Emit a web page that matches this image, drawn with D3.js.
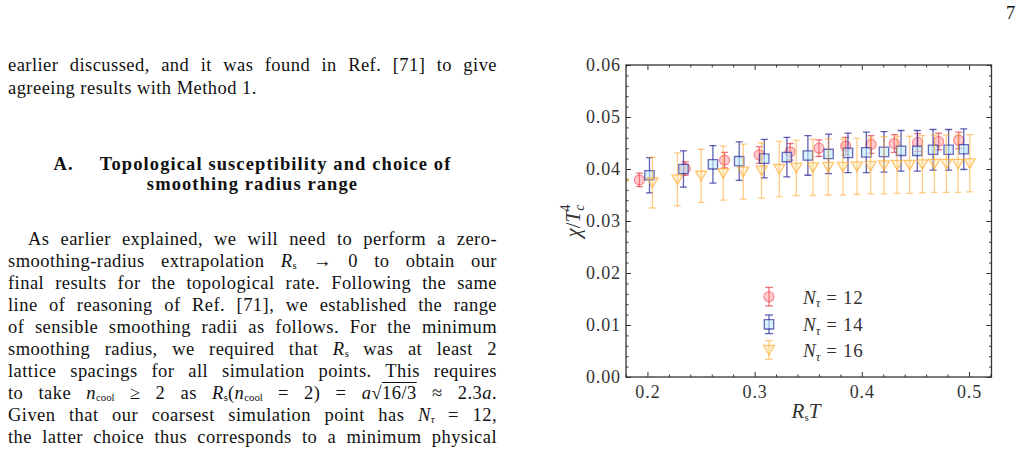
<!DOCTYPE html>
<html>
<head>
<meta charset="utf-8">
<script src="https://cdn.jsdelivr.net/npm/d3@7"></script>
<style>
  body { margin: 0; background: #fff; }
  #page { position: relative; width: 1029px; height: 451px; overflow: hidden;
          font-family: "Liberation Serif", serif; color: #111; background: #fff; }
  #chart { position: absolute; left: 0; top: 0; }
  .ln { position: absolute; left: 8px; width: 489px; font-size: 18.5px; line-height: 22px;
        height: 22px; letter-spacing: 0.45px; text-align: justify; text-align-last: justify; }
  .ln.left { text-align: left; text-align-last: left; }
  .ln.center { text-align: center; text-align-last: center; font-weight: bold; letter-spacing: 1.1px; }
  .ln sub { font-size: 0.58em; line-height: 0; vertical-align: -0.22em; font-style: normal; letter-spacing: 0; }
  .ln sub.it { font-style: italic; }
  .ov { text-decoration: overline; }
  #pnum { position: absolute; left: 1006px; top: 3px; font-size: 18.5px; }
</style>
</head>
<body>
<div id="page">
  <svg id="chart" width="1029" height="451"></svg>
  <div id="pnum">7</div>
  <div id="text"></div>
</div>
<script>
// ---- data ----
const rt12  = [0.1925, 0.2352, 0.2719, 0.3043, 0.3332, 0.3600, 0.3849, 0.4086, 0.4303, 0.4521, 0.4717, 0.4904];
const chi12 = [0.0379, 0.0401, 0.0417, 0.0427, 0.0433, 0.0440, 0.0444, 0.0447, 0.0449, 0.0451, 0.0453, 0.0455];
const err12 = [0.0013, 0.0013, 0.0015, 0.0016, 0.0016, 0.0016, 0.0017, 0.0017, 0.0017, 0.0017, 0.0016, 0.0016];

const rt14  = [0.2019, 0.2336, 0.2611, 0.2856, 0.3090, 0.3301, 0.3497, 0.3690, 0.3871, 0.4042, 0.4207, 0.4366, 0.4518, 0.4665, 0.4810, 0.4951];
const chi14 = [0.0388, 0.0400, 0.0409, 0.0415, 0.0420, 0.0423, 0.0426, 0.0429, 0.0431, 0.0432, 0.0433, 0.0435, 0.0435, 0.0437, 0.0437, 0.0438];
const err14 = [0.0034, 0.0035, 0.0036, 0.0037, 0.0037, 0.0038, 0.0038, 0.0038, 0.0038, 0.0039, 0.0039, 0.0039, 0.0039, 0.0039, 0.0039, 0.0039];

const rt16  = [0.1770, 0.2047, 0.2280, 0.2501, 0.2707, 0.2894, 0.3065, 0.3230, 0.3389, 0.3544, 0.3687, 0.3824, 0.3955, 0.4082, 0.4207, 0.4329, 0.4447, 0.4565, 0.4677, 0.4789, 0.4898, 0.5007];
const chi16 = [0.0372, 0.0374, 0.0380, 0.0387, 0.0392, 0.0395, 0.0397, 0.0400, 0.0402, 0.0403, 0.0404, 0.0404, 0.0405, 0.0406, 0.0407, 0.0408, 0.0408, 0.0409, 0.0410, 0.0410, 0.0410, 0.0411];
const err16 = [0.0048, 0.0049, 0.0051, 0.0051, 0.0052, 0.0053, 0.0053, 0.0053, 0.0053, 0.0054, 0.0054, 0.0054, 0.0054, 0.0054, 0.0055, 0.0055, 0.0055, 0.0055, 0.0055, 0.0055, 0.0055, 0.0055];

const legendLabels = ["12", "14", "16"];

const xMajor = [0.2, 0.3, 0.4, 0.5];
const xMinor = [0.18, 0.22, 0.24, 0.26, 0.28, 0.32, 0.34, 0.36, 0.38, 0.42, 0.44, 0.46, 0.48, 0.52];
const yMajor = [0.00, 0.01, 0.02, 0.03, 0.04, 0.05, 0.06];
const yMinor = [0.002, 0.004, 0.006, 0.008, 0.012, 0.014, 0.016, 0.018, 0.022, 0.024, 0.026, 0.028,
                0.032, 0.034, 0.036, 0.038, 0.042, 0.044, 0.046, 0.048, 0.052, 0.054, 0.056, 0.058];

// ---- page text (left column) ----
const textLines = [
  { b: 71.7,  cls: "",       html: "earlier discussed, and it was found in Ref. [71] to give" },
  { b: 94.3,  cls: "left",   html: "agreeing results with Method 1." },
  { b: 170.7, cls: "center", html: "<span style='margin-right:26px'>A.</span>Topological susceptibility and choice of" },
  { b: 190.7, cls: "center", html: "smoothing radius range" },
  { b: 245,   cls: "", indent: 20, html: "As earlier explained, we will need to perform a zero-" },
  { b: 267,   cls: "",       html: "smoothing-radius extrapolation <i>R</i><sub>s</sub> → 0 to obtain our" },
  { b: 289,   cls: "",       html: "final results for the topological rate. Following the same" },
  { b: 311,   cls: "",       html: "line of reasoning of Ref. [71], we established the range" },
  { b: 333,   cls: "",       html: "of sensible smoothing radii as follows. For the minimum" },
  { b: 355,   cls: "",       html: "smoothing radius, we required that <i>R</i><sub>s</sub> was at least 2" },
  { b: 377,   cls: "",       html: "lattice spacings for all simulation points. This requires" },
  { b: 399,   cls: "",       html: "to take <i>n</i><sub>cool</sub> ≥ 2 as <i>R</i><sub>s</sub>(<i>n</i><sub>cool</sub> = 2) = <i>a</i>√<span class='ov'>16/3</span> ≈ 2.3<i>a</i>." },
  { b: 421,   cls: "",       html: "Given that our coarsest simulation point has <i>N</i><sub class='it'>τ</sub> = 12," },
  { b: 443,   cls: "",       html: "the latter choice thus corresponds to a minimum physical" }
];

d3.select("#text").selectAll("div")
  .data(textLines)
  .enter()
  .append("div")
  .attr("class", d => "ln " + d.cls)
  .style("top", d => (d.b - 17.3) + "px")
  .style("left", d => (8 + (d.indent || 0)) + "px")
  .style("width", d => (489 - (d.indent || 0)) + "px")
  .html(d => d.html);

// ---- chart ----
const svg = d3.select("#chart");
const plot = { left: 626, right: 991.5, top: 65, bottom: 377 };

const x = d3.scaleLinear().domain([0.18, 0.521]).range([plot.left, plot.right]);
const y = d3.scaleLinear().domain([0, 0.06]).range([plot.bottom, plot.top]);

const axisColor = "#333";
const serif = "'Liberation Serif', serif";

function styleAxis(g) {
  g.attr("font-family", serif).attr("font-size", 18);
  g.select(".domain").remove();
  g.selectAll(".tick line").attr("stroke", axisColor).attr("stroke-width", 1);
  g.selectAll(".tick text")
    .attr("fill", "#333")
    .style("font-family", serif)
    .style("font-size", "18px")
    .style("letter-spacing", "0.9px");
}

// bottom
svg.append("g")
  .attr("transform", `translate(0,${plot.bottom})`)
  .call(d3.axisBottom(x).tickValues(xMajor).tickSizeInner(-5).tickSizeOuter(0)
        .tickPadding(8).tickFormat(d3.format(".1f")))
  .call(styleAxis);
svg.append("g")
  .attr("transform", `translate(0,${plot.bottom})`)
  .call(d3.axisBottom(x).tickValues(xMinor).tickSizeInner(-2.5).tickSizeOuter(0).tickFormat(""))
  .call(styleAxis);
// top
svg.append("g")
  .attr("transform", `translate(0,${plot.top})`)
  .call(d3.axisTop(x).tickValues(xMajor).tickSizeInner(-5).tickSizeOuter(0).tickFormat(""))
  .call(styleAxis);
svg.append("g")
  .attr("transform", `translate(0,${plot.top})`)
  .call(d3.axisTop(x).tickValues(xMinor).tickSizeInner(-2.5).tickSizeOuter(0).tickFormat(""))
  .call(styleAxis);
// left
svg.append("g")
  .attr("transform", `translate(${plot.left},0)`)
  .call(d3.axisLeft(y).tickValues(yMajor).tickSizeInner(-5).tickSizeOuter(0)
        .tickPadding(5).tickFormat(d3.format(".2f")))
  .call(styleAxis);
svg.append("g")
  .attr("transform", `translate(${plot.left},0)`)
  .call(d3.axisLeft(y).tickValues(yMinor).tickSizeInner(-2.5).tickSizeOuter(0).tickFormat(""))
  .call(styleAxis);
// right
svg.append("g")
  .attr("transform", `translate(${plot.right},0)`)
  .call(d3.axisRight(y).tickValues(yMajor).tickSizeInner(-5).tickSizeOuter(0).tickFormat(""))
  .call(styleAxis);
svg.append("g")
  .attr("transform", `translate(${plot.right},0)`)
  .call(d3.axisRight(y).tickValues(yMinor).tickSizeInner(-2.5).tickSizeOuter(0).tickFormat(""))
  .call(styleAxis);

// clip for data
svg.append("clipPath").attr("id", "clip")
  .append("rect")
  .attr("x", plot.left).attr("y", plot.top)
  .attr("width", plot.right - plot.left).attr("height", plot.bottom - plot.top);

const triDown = "M-5.5,-4.5L5.5,-4.5L0,5Z";
const styles = [
  { rt: rt12, chi: chi12, err: err12, path: d3.symbol().type(d3.symbolCircle).size(80)(),
    fill: "rgba(255,110,120,0.35)", stroke: "rgba(240,40,50,0.45)", bar: "rgba(230,30,40,0.6)" },
  { rt: rt14, chi: chi14, err: err14, path: d3.symbol().type(d3.symbolSquare).size(88)(),
    fill: "rgba(190,235,250,0.6)", stroke: "rgba(30,30,150,0.65)", bar: "rgba(30,30,150,0.7)" },
  { rt: rt16, chi: chi16, err: err16, path: triDown,
    fill: "rgba(255,225,150,0.35)", stroke: "rgba(255,160,30,0.6)", bar: "rgba(255,165,40,0.55)" }
];

const dataLayer = svg.append("g").attr("clip-path", "url(#clip)");
const cap = 3.5;

styles.forEach(s => {
  const g = dataLayer.append("g");
  const pts = s.rt.map((r, i) => ({ r: r, v: s.chi[i], e: s.err[i] }));
  const bars = g.selectAll(".eb").data(pts).enter().append("g").attr("class", "eb")
    .attr("stroke", s.bar).attr("stroke-width", 1.3);
  bars.append("line")
    .attr("x1", d => x(d.r)).attr("x2", d => x(d.r))
    .attr("y1", d => y(d.v - d.e)).attr("y2", d => y(d.v + d.e));
  bars.append("line")
    .attr("x1", d => x(d.r) - cap).attr("x2", d => x(d.r) + cap)
    .attr("y1", d => y(d.v - d.e)).attr("y2", d => y(d.v - d.e));
  bars.append("line")
    .attr("x1", d => x(d.r) - cap).attr("x2", d => x(d.r) + cap)
    .attr("y1", d => y(d.v + d.e)).attr("y2", d => y(d.v + d.e));
  g.selectAll(".mk").data(pts).enter().append("path").attr("class", "mk")
    .attr("d", s.path)
    .attr("transform", d => `translate(${x(d.r)},${y(d.v)})`)
    .attr("fill", s.fill).attr("stroke", s.stroke).attr("stroke-width", 1.3);
});

// frame
svg.append("rect")
  .attr("x", plot.left).attr("y", plot.top)
  .attr("width", plot.right - plot.left).attr("height", plot.bottom - plot.top)
  .attr("fill", "none").attr("stroke", axisColor).attr("stroke-width", 1.3);

// legend
const legendY = [296.7, 324.3, 350];
const legend = svg.append("g");
styles.forEach((s, i) => {
  const cy = legendY[i], cx = 769, h = 9.3;
  const gg = legend.append("g");
  gg.append("line").attr("x1", cx).attr("x2", cx).attr("y1", cy - h).attr("y2", cy + h)
    .attr("stroke", s.bar).attr("stroke-width", 1.3);
  [cy - h, cy + h].forEach(yy => gg.append("line")
    .attr("x1", cx - 4).attr("x2", cx + 4).attr("y1", yy).attr("y2", yy)
    .attr("stroke", s.bar).attr("stroke-width", 1.3));
  gg.append("path").attr("d", s.path).attr("transform", `translate(${cx},${cy})`)
    .attr("fill", s.fill).attr("stroke", s.stroke).attr("stroke-width", 1.3);

  const t = legend.append("text")
    .attr("x", 803).attr("y", cy + 7)
    .attr("fill", "#333")
    .style("font-family", serif)
    .style("font-size", "19px");
  t.append("tspan").attr("font-style", "italic").text("N");
  t.append("tspan").attr("font-style", "italic").attr("font-size", "13px").attr("dy", 3.5).text("τ");
  t.append("tspan").attr("dy", -3.5).attr("dx", 6).text("=");
  t.append("tspan").attr("dx", 6).style("letter-spacing", "0.8px").text(legendLabels[i]);
});

// axis labels
const xl = svg.append("text")
  .attr("x", 806).attr("y", 418)
  .attr("text-anchor", "middle")
  .attr("fill", "#333")
  .style("font-family", serif)
  .style("font-size", "21px");
xl.append("tspan").attr("font-style", "italic").text("R");
xl.append("tspan").attr("font-size", "11px").attr("dy", 3).text("s");
xl.append("tspan").attr("font-style", "italic").attr("dy", -3).text("T");

const yl = svg.append("text")
  .attr("transform", "translate(580,221) rotate(-90)")
  .attr("text-anchor", "middle")
  .attr("fill", "#333")
  .style("font-family", serif)
  .style("font-size", "21px");
yl.append("tspan").attr("font-style", "italic").text("χ");
yl.append("tspan").text("/");
yl.append("tspan").attr("font-style", "italic").text("T");
yl.append("tspan").attr("font-style", "italic").attr("font-size", "14px").attr("dy", 4).text("c");
yl.append("tspan").attr("font-size", "14px").attr("dx", -7).attr("dy", -14).text("4");
</script>
</body>
</html>
